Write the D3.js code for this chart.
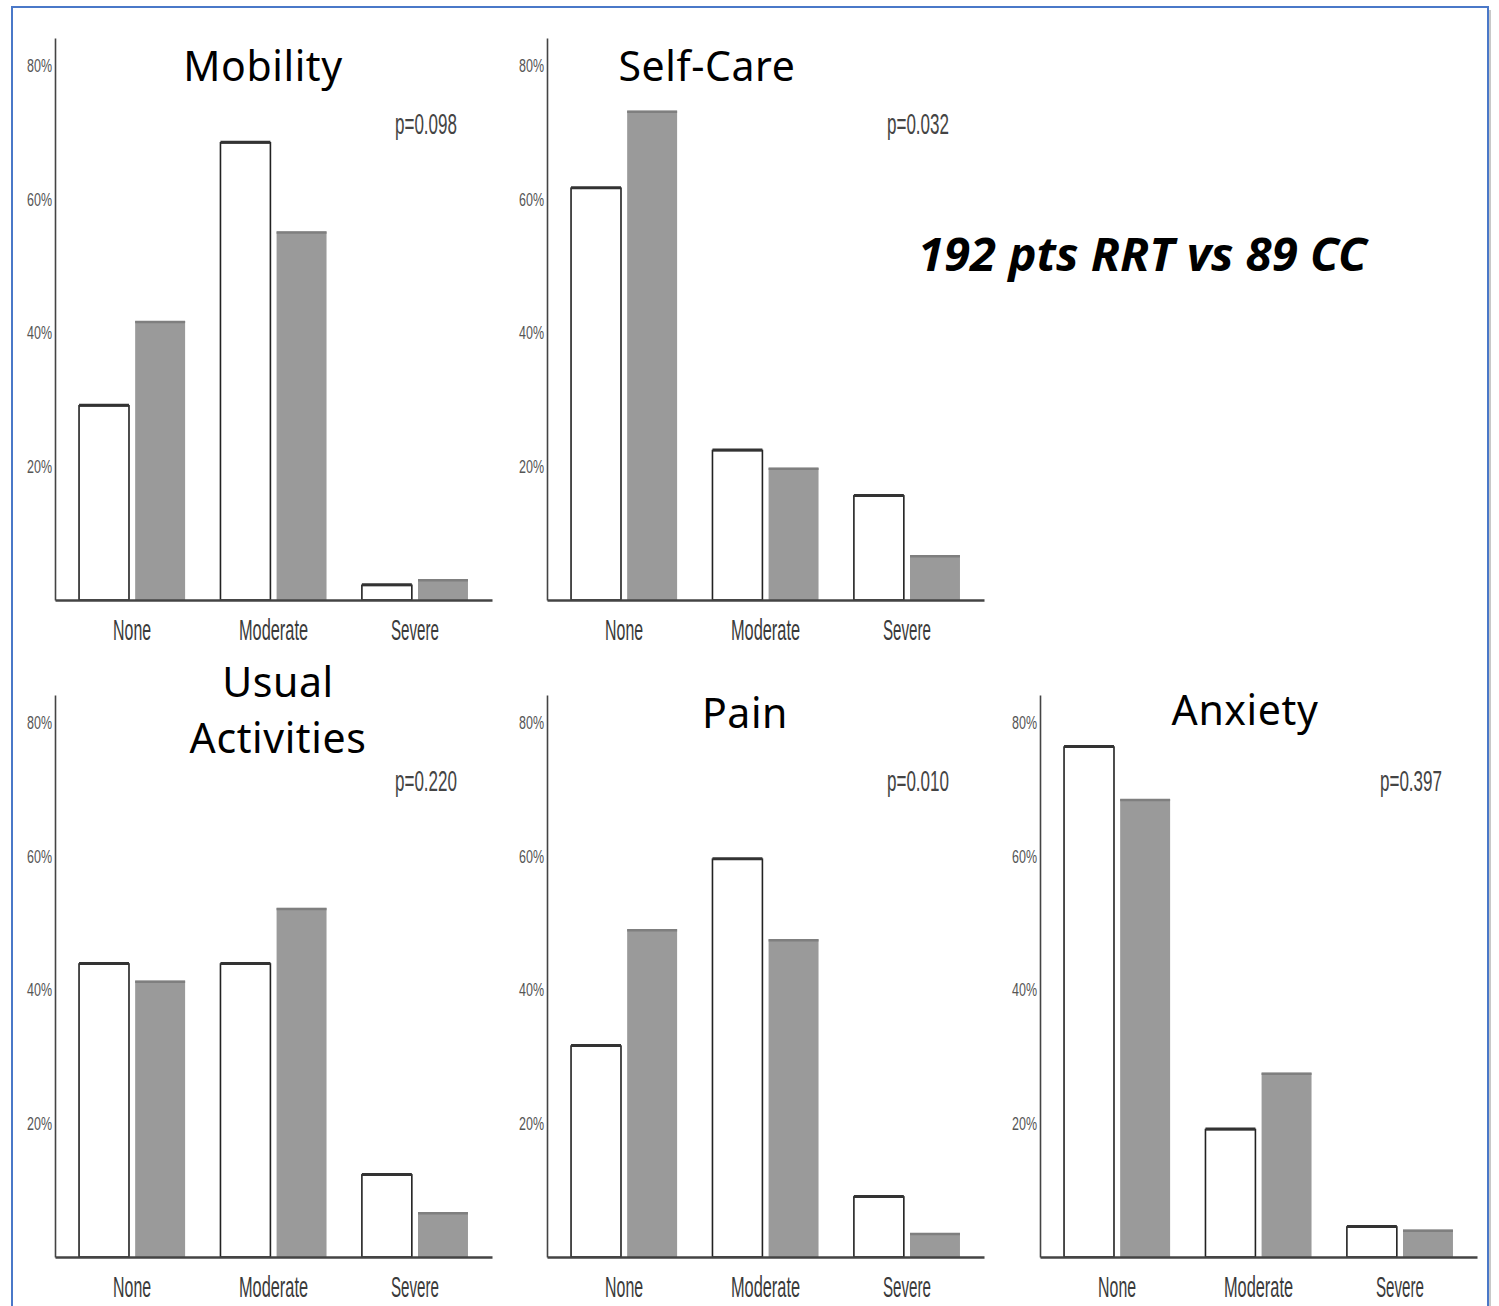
<!DOCTYPE html>
<html>
<head>
<meta charset="utf-8">
<script src="https://cdn.jsdelivr.net/npm/d3@7"></script>
<style>
  html, body { margin: 0; padding: 0; background: #fff; }
  svg { display: block; }
</style>
</head>
<body>
<script>
// EQ-5D dimensions, share of patients (%) in each level
const dimensions = ["Mobility", "Self-Care", "Usual Activities", "Pain", "Anxiety"];
const levels = ["None", "Moderate", "Severe"];
const groups = ["RRT", "CC"];
const rrtValues = [
    [29.1, 68.5, 2.2],
    [61.7, 22.4, 15.6],
    [43.9, 43.9, 12.3],
    [31.6, 59.6, 9.0],
    [76.4, 19.1, 4.5]
];
const ccValues = [
    [41.8, 55.2, 3.1],
    [73.3, 19.8, 6.7],
    [41.4, 52.3, 6.7],
    [49.1, 47.6, 3.6],
    [68.6, 27.6, 4.1]
];
const pValues = ["p=0.098", "p=0.032", "p=0.220", "p=0.010", "p=0.397"];
const yTicks = [20, 40, 60, 80];
const note = "192 pts RRT vs 89 CC";

// where each small chart sits on the page
const layout = [
    {x: 55,   base: 600,  titleX: 208, titleY: 81,  titleLines: 1},
    {x: 547,  base: 600,  titleX: 160, titleY: 81,  titleLines: 1},
    {x: 55,   base: 1257, titleX: 223, titleY: 697, titleLines: 2},
    {x: 547,  base: 1257, titleX: 198, titleY: 728, titleLines: 1},
    {x: 1040, base: 1257, titleX: 205, titleY: 725, titleLines: 1}
];

const W = 1499, H = 1306;
const plotW = 437, plotH = 562;

const svg = d3.select("body").append("svg")
    .attr("width", W)
    .attr("height", H);

// frame with a little shadow on the right
svg.append("rect")
    .attr("x", 15).attr("y", 10)
    .attr("width", 1476).attr("height", 1320)
    .attr("fill", "#c8c8c8");
svg.append("rect")
    .attr("x", 12).attr("y", 7)
    .attr("width", 1476).attr("height", 1320)
    .attr("fill", "#fff")
    .attr("stroke", "#4a78c8")
    .attr("stroke-width", 2);

const narrow = "'Liberation Sans Narrow', 'Liberation Sans', Arial, sans-serif";

// x scales are the same for every panel
const x0 = d3.scaleBand()
    .domain(levels)
    .range([0, plotW])
    .paddingInner(0.25)
    .paddingOuter(0.17);
const x1 = d3.scaleBand()
    .domain(groups)
    .range([0, x0.bandwidth()])
    .paddingInner(0.11);

dimensions.forEach(function (dim, i) {
    let L = layout[i];
    let g = svg.append("g")
        .attr("transform", "translate(" + L.x + "," + (L.base - plotH) + ")");

    // 80% sits 534px above the baseline, axis runs a bit higher
    let y = d3.scaleLinear()
        .domain([0, 84.2])
        .range([plotH, 0]);

    let rows = levels.map((lv, j) => ({level: lv, RRT: rrtValues[i][j], CC: ccValues[i][j]}));

    // y axis
    let ya = g.append("g")
        .call(d3.axisLeft(y).tickValues(yTicks).tickSize(0).tickSizeOuter(0)
            .tickPadding(3).tickFormat(d => d + "%"));
    ya.select(".domain").attr("stroke", "#444").attr("stroke-width", 1.6);
    ya.selectAll("text")
        .attr("font-family", narrow)
        .attr("font-size", 18)
        .attr("fill", "#555")
        .attr("textLength", 25)
        .attr("lengthAdjust", "spacingAndGlyphs");

    // bars
    let grp = g.selectAll(".grp")
        .data(rows)
        .join("g")
        .attr("class", "grp")
        .attr("transform", d => "translate(" + x0(d.level) + ",0)");

    grp.append("rect")
        .attr("x", x1("CC"))
        .attr("y", d => y(d.CC))
        .attr("width", x1.bandwidth())
        .attr("height", d => y(0) - y(d.CC))
        .attr("fill", "#9a9a9a");
    grp.append("line")
        .attr("x1", x1("CC")).attr("x2", x1("CC") + x1.bandwidth())
        .attr("y1", d => y(d.CC) + 1).attr("y2", d => y(d.CC) + 1)
        .attr("stroke", "#7f7f7f").attr("stroke-width", 2.5);

    grp.append("rect")
        .attr("x", x1("RRT"))
        .attr("y", d => y(d.RRT))
        .attr("width", x1.bandwidth())
        .attr("height", d => y(0) - y(d.RRT))
        .attr("fill", "#fff")
        .attr("stroke", "#222")
        .attr("stroke-width", 1.6);
    grp.append("line")
        .attr("x1", x1("RRT")).attr("x2", x1("RRT") + x1.bandwidth())
        .attr("y1", d => y(d.RRT) - 0.5).attr("y2", d => y(d.RRT) - 0.5)
        .attr("stroke", "#333").attr("stroke-width", 3);

    // x axis
    let xa = g.append("g")
        .attr("transform", "translate(0," + plotH + ")")
        .call(d3.axisBottom(x0).tickSize(0).tickSizeOuter(0));
    xa.select(".domain").attr("stroke", "#444").attr("stroke-width", 2.5);
    xa.selectAll("text")
        .attr("y", 40)
        .attr("dy", null)
        .attr("font-family", narrow)
        .attr("font-size", 29)
        .attr("fill", "#3a3a3a")
        .attr("textLength", d => ({None: 38, Moderate: 69, Severe: 48})[d])
        .attr("lengthAdjust", "spacingAndGlyphs");

    // title
    let words = L.titleLines === 2 ? dim.split(" ") : [dim];
    let t = g.append("text")
        .attr("x", L.titleX)
        .attr("y", L.titleY - (L.base - plotH))
        .attr("text-anchor", "middle")
        .attr("font-family", "'Noto Sans', 'Open Sans', sans-serif")
        .attr("font-size", 41)
        .attr("letter-spacing", 0.6)
        .attr("fill", "#000");
    words.forEach((w, k) => {
        t.append("tspan").attr("x", L.titleX).attr("dy", k === 0 ? 0 : 56).text(w);
    });

    // p value
    g.append("text")
        .attr("x", 340)
        .attr("y", y(80) + 68)
        .attr("font-family", narrow)
        .attr("font-size", 29)
        .attr("fill", "#444")
        .attr("textLength", 62)
        .attr("lengthAdjust", "spacingAndGlyphs")
        .text(pValues[i]);
});

svg.append("text")
    .attr("x", 918)
    .attr("y", 271)
    .attr("font-family", "'Noto Sans', 'Open Sans', sans-serif")
    .attr("font-size", 46)
    .attr("font-weight", "bold")
    .attr("font-style", "italic")
    .attr("fill", "#000")
    .attr("textLength", 449)
    .attr("lengthAdjust", "spacingAndGlyphs")
    .text(note);
</script>
</body>
</html>
